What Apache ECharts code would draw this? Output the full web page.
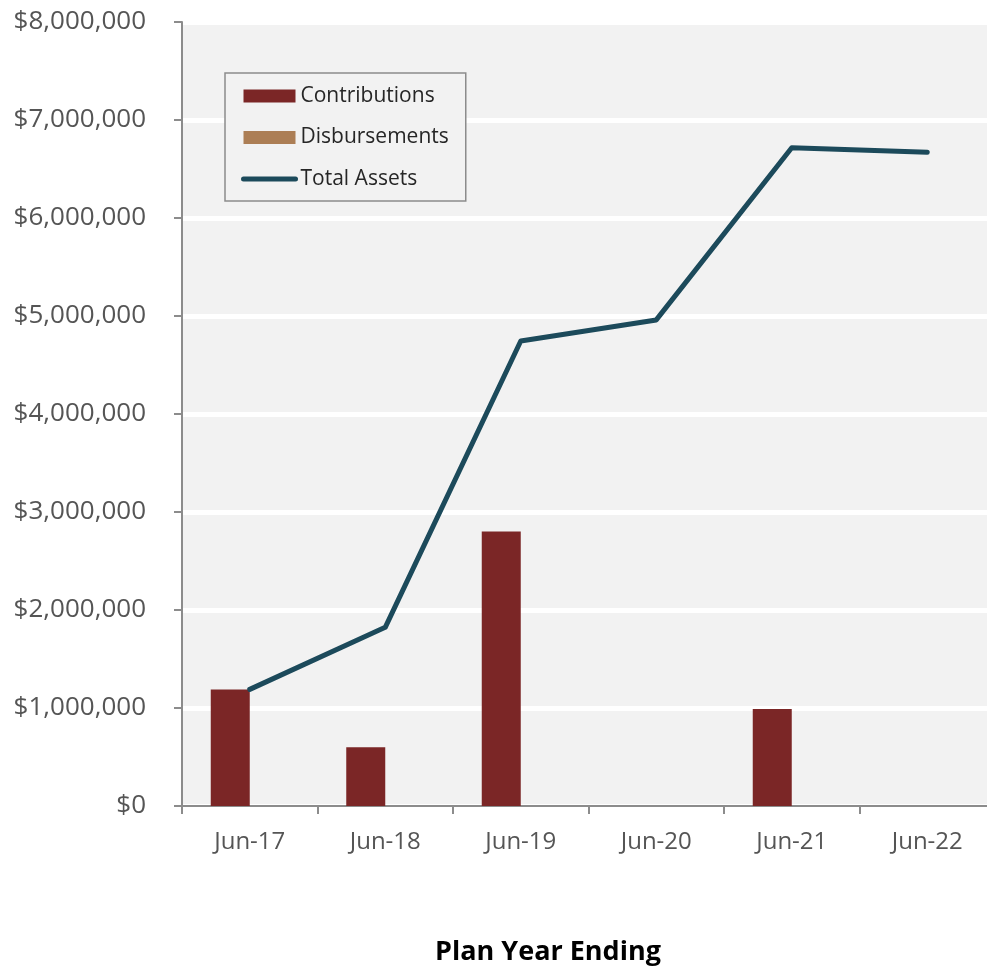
<!DOCTYPE html>
<html>
<head>
<meta charset="utf-8">
<style>
  html, body { margin: 0; padding: 0; background: #fff; overflow: hidden; }
  #chart { width: 995px; height: 969px; }
</style>
<script src="https://cdn.jsdelivr.net/npm/echarts@6/dist/echarts.min.js"></script>
</head>
<body>
<div id="chart"></div>
<script>
// Plan year categories
const categories = ['Jun-17', 'Jun-18', 'Jun-19', 'Jun-20', 'Jun-21', 'Jun-22'];
// Yearly cash flows (USD)
const contributions = [1190000, 600000, 2800000, 0, 990000, 0];
const disbursements = [0, 0, 0, 0, 0, 0];
// Year-end plan assets (USD)
const totalAssets = [1190000, 1823000, 4745000, 4960000, 6717000, 6670000];
// Value axis range
const yMin = 0, yMax = 8000000, yStep = 1000000;

const fontFamily = '"Open Sans", "Noto Sans", sans-serif';
const axisGray = '#8c8c8c';
const labelColor = '#555555';
const assetsColor = '#1c4a5b';

function money(v) {
  return '$' + String(Math.round(v)).replace(/\B(?=(\d{3})+(?!\d))/g, ',');
}

const chart = echarts.init(document.getElementById('chart'), null, { renderer: 'canvas' });
chart.setOption({
  animation: false,
  backgroundColor: '#ffffff',
  textStyle: { fontFamily: fontFamily },
  grid: {
    left: 182, top: 22, right: 0, bottom: 163,
    show: true, backgroundColor: '#f2f2f2', borderWidth: 0
  },
  legend: {
    orient: 'vertical',
    left: 225, top: 73,
    padding: [12, 17, 11, 16],
    backgroundColor: '#f2f2f2',
    borderColor: '#8c8c8c',
    borderWidth: 1.5,
    borderRadius: 0,
    itemWidth: 52,
    itemHeight: 13,
    itemGap: 19.5,
    textStyle: { fontSize: 21, color: '#262626', fontFamily: fontFamily, lineHeight: 22 },
    data: [
      { name: 'Contributions', icon: 'rect' },
      { name: 'Disbursements', icon: 'rect' },
      {
        name: 'Total Assets',
        itemStyle: { opacity: 0 },
        lineStyle: { width: 5, cap: 'round', color: assetsColor }
      }
    ]
  },
  graphic: [{
    type: 'text',
    x: 548, y: 952,
    style: {
      text: 'Plan Year Ending',
      align: 'center', verticalAlign: 'middle',
      font: 'bold 27px "Open Sans", "Noto Sans", sans-serif',
      fill: '#000000'
    }
  }],
  xAxis: {
    type: 'category',
    data: categories,
    boundaryGap: true,
    axisLine: { lineStyle: { color: axisGray, width: 2 } },
    axisTick: { show: true, alignWithLabel: false, length: 8, lineStyle: { color: axisGray, width: 2 } },
    axisLabel: { fontSize: 24, color: labelColor, margin: 24, fontFamily: fontFamily }
  },
  yAxis: {
    type: 'value',
    min: yMin, max: yMax, interval: yStep,
    axisLine: { show: true, lineStyle: { color: axisGray, width: 2 } },
    axisTick: { show: true, length: 8, lineStyle: { color: axisGray, width: 2 } },
    axisLabel: { fontSize: 26, color: labelColor, margin: 36, formatter: money, fontFamily: fontFamily },
    splitLine: { show: true, lineStyle: { color: '#ffffff', width: 5 } }
  },
  series: [
    {
      name: 'Contributions',
      type: 'bar',
      data: contributions,
      barWidth: 39,
      barGap: '0%',
      itemStyle: { color: '#7b2626' },
      z: 2
    },
    {
      name: 'Disbursements',
      type: 'bar',
      data: disbursements,
      barWidth: 39,
      barGap: '0%',
      itemStyle: { color: '#ac7e55' },
      z: 2
    },
    {
      name: 'Total Assets',
      type: 'line',
      data: totalAssets,
      symbol: 'none',
      showSymbol: false,
      lineStyle: { color: assetsColor, width: 5, cap: 'round', join: 'round' },
      itemStyle: { color: assetsColor },
      z: 5
    }
  ]
});
</script>
</body>
</html>
